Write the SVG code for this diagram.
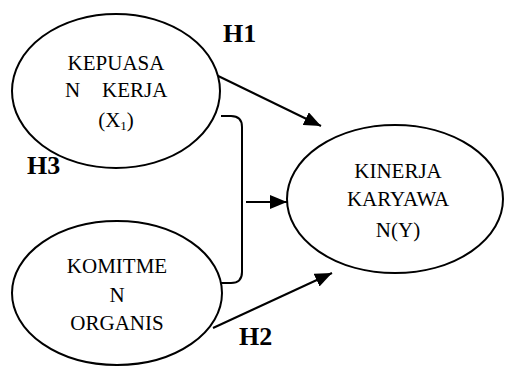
<svg xmlns="http://www.w3.org/2000/svg" width="506" height="367" viewBox="0 0 506 367">
<defs>
<marker id="ah" markerUnits="userSpaceOnUse" markerWidth="18" markerHeight="14" refX="17" refY="7" orient="auto">
<path d="M0,0 L17,7 L0,14 z" fill="#000"/>
</marker>
<style>
.node ellipse{fill:#fff;stroke:#000;stroke-width:2}
.t{font-family:"Liberation Serif","Times New Roman",serif;font-size:21px;fill:#000}
.h{font-family:"Liberation Serif","Times New Roman",serif;font-size:26px;font-weight:bold;fill:#000}
.c{fill:none;stroke:#000;stroke-width:2}
</style>
</defs>
<rect width="506" height="367" fill="#fff"/>
<g id="connectors">
<line class="c" x1="210" y1="72" x2="321" y2="126" marker-end="url(#ah)"/>
<line class="c" x1="213" y1="328" x2="332" y2="273" marker-end="url(#ah)"/>
<path class="c" d="M221,116 H231 Q242,116 242,127 V272 Q242,283 231,283 H221"/>
<line class="c" x1="246" y1="202" x2="287" y2="202" marker-end="url(#ah)"/>
</g>
<g id="node-x1" class="node">
<ellipse cx="116" cy="91" rx="104" ry="77"/>
<text class="t" x="116" y="70" text-anchor="middle">KEPUASA</text>
<text class="t" y="97"><tspan x="65">N</tspan><tspan x="102">KERJA</tspan></text>
<text class="t" x="116" y="127" text-anchor="middle">(X<tspan font-size="13" dy="3">1</tspan><tspan dy="-3">)</tspan></text>
</g>
<g id="node-x2" class="node">
<ellipse cx="117" cy="293" rx="105" ry="72"/>
<text class="t" x="117" y="273" text-anchor="middle">KOMITME</text>
<text class="t" x="117" y="302" text-anchor="middle">N</text>
<text class="t" x="117" y="330" text-anchor="middle">ORGANIS</text>
</g>
<g id="node-y" class="node">
<ellipse cx="395" cy="199" rx="108" ry="74"/>
<text class="t" x="398" y="178" text-anchor="middle">KINERJA</text>
<text class="t" x="398" y="206" text-anchor="middle">KARYAWA</text>
<text class="t" x="398" y="237" text-anchor="middle">N(Y)</text>
</g>
<g id="labels">
<text class="h" x="223" y="42">H1</text>
<text class="h" x="27" y="174">H3</text>
<text class="h" x="239" y="345">H2</text>
</g>
</svg>
